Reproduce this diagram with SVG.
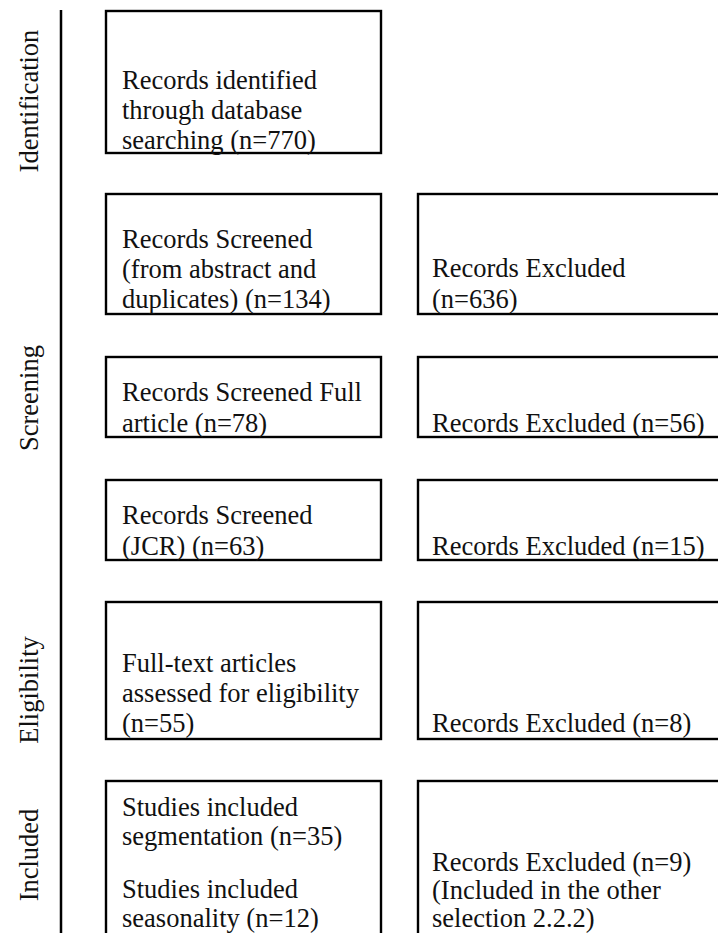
<svg xmlns="http://www.w3.org/2000/svg" width="718" height="933" viewBox="0 0 718 933">
  <style>
    .box { fill: #ffffff; stroke: #000000; stroke-width: 2.4; }
    .t { font-family: "Liberation Serif", "Times New Roman", serif; font-size: 26.5px; fill: #111111; }
    .phase { font-family: "Liberation Serif", "Times New Roman", serif; font-size: 26.5px; fill: #111111; text-anchor: middle; }
    .rule { stroke: #000000; stroke-width: 2.5; fill: none; }
  </style>
  <rect width="718" height="933" fill="#ffffff"/>

  <!-- phase labels and divider rule -->
  <g id="phases">
    <line class="rule" x1="61" y1="10" x2="61" y2="933"/>
    <text class="phase" transform="translate(38,101) rotate(-90)">Identification</text>
    <text class="phase" transform="translate(38,398) rotate(-90)">Screening</text>
    <text class="phase" transform="translate(38,690) rotate(-90)">Eligibility</text>
    <text class="phase" transform="translate(38,855) rotate(-90)">Included</text>
  </g>

  <g id="connectors"></g>

  <g id="identified">
    <rect class="box" x="106" y="11" width="275" height="142"/>
    <text class="t" x="122" y="89">Records identified</text>
    <text class="t" x="122" y="119">through database</text>
    <text class="t" x="122" y="149">searching (n=770)</text>
  </g>

  <g id="screened-abstract">
    <rect class="box" x="106" y="194" width="275" height="120"/>
    <text class="t" x="122" y="248">Records Screened</text>
    <text class="t" x="122" y="278">(from abstract and</text>
    <text class="t" x="122" y="308">duplicates) (n=134)</text>
  </g>

  <g id="excluded-abstract">
    <rect class="box" x="418" y="194" width="320" height="120"/>
    <text class="t" x="432" y="277">Records Excluded</text>
    <text class="t" x="432" y="308">(n=636)</text>
  </g>

  <g id="screened-full">
    <rect class="box" x="106" y="357" width="275" height="80"/>
    <text class="t" x="122" y="401">Records Screened Full</text>
    <text class="t" x="122" y="432">article (n=78)</text>
  </g>

  <g id="excluded-full">
    <rect class="box" x="418" y="357" width="320" height="80"/>
    <text class="t" x="432" y="432">Records Excluded (n=56)</text>
  </g>

  <g id="screened-jcr">
    <rect class="box" x="106" y="480" width="275" height="80"/>
    <text class="t" x="122" y="524">Records Screened</text>
    <text class="t" x="122" y="555">(JCR) (n=63)</text>
  </g>

  <g id="excluded-jcr">
    <rect class="box" x="418" y="480" width="320" height="80"/>
    <text class="t" x="432" y="555">Records Excluded (n=15)</text>
  </g>

  <g id="eligibility">
    <rect class="box" x="106" y="602" width="275" height="137"/>
    <text class="t" x="122" y="672">Full-text articles</text>
    <text class="t" x="122" y="702">assessed for eligibility</text>
    <text class="t" x="122" y="732">(n=55)</text>
  </g>

  <g id="excluded-eligibility">
    <rect class="box" x="418" y="602" width="320" height="137"/>
    <text class="t" x="432" y="732">Records Excluded (n=8)</text>
  </g>

  <g id="included">
    <rect class="box" x="106" y="781" width="275" height="170"/>
    <text class="t" x="122" y="816">Studies included</text>
    <text class="t" x="122" y="845">segmentation (n=35)</text>
    <text class="t" x="122" y="898">Studies included</text>
    <text class="t" x="122" y="927">seasonality (n=12)</text>
  </g>

  <g id="excluded-other">
    <rect class="box" x="418" y="781" width="320" height="170"/>
    <text class="t" x="432" y="871">Records Excluded (n=9)</text>
    <text class="t" x="432" y="899">(Included in the other</text>
    <text class="t" x="432" y="927">selection 2.2.2)</text>
  </g>
</svg>
